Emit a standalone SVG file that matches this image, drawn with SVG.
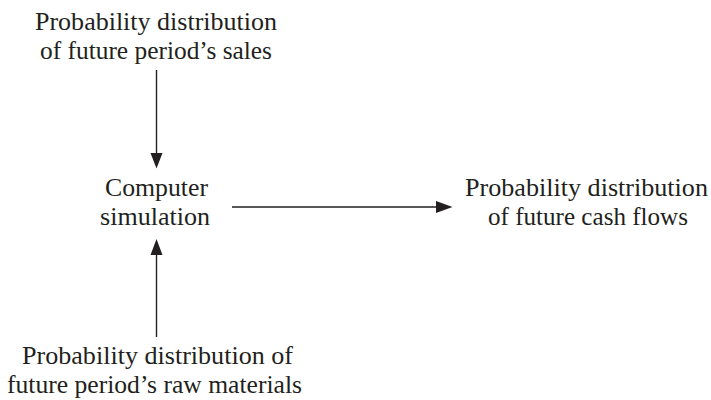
<svg xmlns="http://www.w3.org/2000/svg" width="711" height="400" viewBox="0 0 711 400">
<defs>
<style>
text{font-family:'Liberation Serif','Times New Roman',serif;font-size:25px;fill:#231f20;text-anchor:middle}
.c{stroke:#231f20;stroke-width:1.4;fill:none}
.h{fill:#231f20;stroke:none}
</style>
</defs>
<rect width="711" height="400" fill="#fff"/>
<g id="sales">
<text x="156" y="30" textLength="242" lengthAdjust="spacingAndGlyphs">Probability distribution</text>
<text x="156" y="59" textLength="232" lengthAdjust="spacingAndGlyphs">of future period’s sales</text>
</g>
<g id="simulation">
<text x="156.5" y="196" textLength="103" lengthAdjust="spacingAndGlyphs">Computer</text>
<text x="155" y="225" textLength="110" lengthAdjust="spacingAndGlyphs">simulation</text>
</g>
<g id="cashflows">
<text x="586.5" y="196" textLength="243" lengthAdjust="spacingAndGlyphs">Probability distribution</text>
<text x="588" y="225" textLength="200" lengthAdjust="spacingAndGlyphs">of future cash flows</text>
</g>
<g id="rawmaterials">
<text x="157.5" y="364" textLength="271" lengthAdjust="spacingAndGlyphs">Probability distribution of</text>
<text x="154.5" y="393" textLength="295" lengthAdjust="spacingAndGlyphs">future period’s raw materials</text>
</g>
<g id="connectors">
<line class="c" x1="156.5" y1="70" x2="156.5" y2="155"/>
<polygon class="h" points="150.5,153 162.5,153 156.5,168.5"/>
<line class="c" x1="232" y1="207" x2="438" y2="207"/>
<polygon class="h" points="436,201 436,213 452.5,207"/>
<line class="c" x1="156.5" y1="337" x2="156.5" y2="252"/>
<polygon class="h" points="150.5,255 162.5,255 156.5,239"/>
</g>
</svg>
